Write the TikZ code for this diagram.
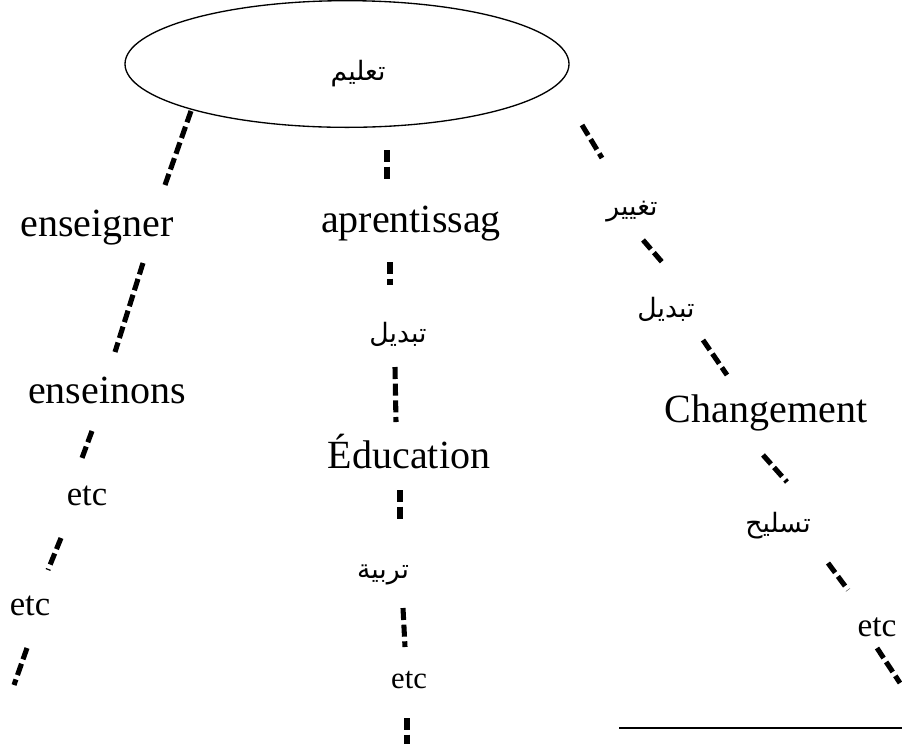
\documentclass[tikz,border=0pt]{standalone}
\usepackage{fontspec}
\setmainfont{Liberation Serif}
\newfontfamily\arabicfont[Script=Arabic]{DejaVu Sans}
\TeXXeTstate=1
\usetikzlibrary{shapes.geometric}
\begin{document}
\begin{tikzpicture}[x=0.75pt,y=-0.75pt,
  seg/.style={line width=3.8pt,dash pattern=on 9pt off 3.5pt},
  fr/.style={font=\fontsize{30}{36}\selectfont,anchor=base,inner sep=0pt},
  et/.style={font=\fontsize{26}{30}\selectfont,anchor=base,inner sep=0pt},
  ar/.style={font=\arabicfont\fontsize{20}{24}\selectfont,anchor=base,inner sep=0pt}]
\useasboundingbox (0,0) rectangle (902,744);
\node[ellipse,draw,line width=1pt,minimum width=333pt,minimum height=95pt,inner sep=0pt] (root) at (347,64) {};
\node[ar] (taalim) at (358,80) {\beginR تعليم\endR};
% left branch
\node[fr] (enseigner) at (97,236) {enseigner};
\node[fr] (enseinons) at (107,403) {enseinons};
\node[et] (etcA) at (87,505) {etc};
\node[et] (etcB) at (30,615) {etc};
% middle branch
\node[fr] (aprent) at (411,232) {aprentissag};
\node[ar] (tabdilM) at (398,342) {\beginR تبديل\endR};
\node[fr] (educ) at (409,468) {Éducation};
\node[ar] (tarbiya) at (383,578) {\beginR تربية\endR};
\node[et,font=\fontsize{23}{27}\selectfont] (etcC) at (409,688) {etc};
% right branch
\node[ar] (taghyir) at (632,215) {\beginR تغيير\endR};
\node[ar] (tabdilR) at (666,317) {\beginR تبديل\endR};
\node[fr] (change) at (766,422) {Changement};
\node[ar] (taslih) at (778,532) {\beginR تسليح\endR};
\node[et,font=\fontsize{25}{29}\selectfont] (etcD) at (877,636) {etc};
% segment ends
\coordinate (l1s) at (191,111); \coordinate (l1e) at (165,185);
\coordinate (l2s) at (143,263); \coordinate (l2e) at (115,352);
\coordinate (l3s) at (92,431);  \coordinate (l3e) at (82,458);
\coordinate (l4s) at (61,538);  \coordinate (l4e) at (48,570);
\coordinate (l5s) at (27,648);  \coordinate (l5e) at (14,685);
\coordinate (m1s) at (387,150); \coordinate (m1e) at (387,182);
\coordinate (m2s) at (390,262); \coordinate (m2e) at (390,285);
\coordinate (m3s) at (395,367); \coordinate (m3e) at (396,422);
\coordinate (m4s) at (400,490); \coordinate (m4e) at (400,522);
\coordinate (m5s) at (403,608); \coordinate (m5e) at (405,647);
\coordinate (m6s) at (407,718); \coordinate (m6e) at (407,744);
\coordinate (r1s) at (582,125); \coordinate (r1e) at (602,158);
\coordinate (r2s) at (643,240); \coordinate (r2e) at (662,262);
\coordinate (r3s) at (703,340); \coordinate (r3e) at (727,375);
\coordinate (r4s) at (763,455); \coordinate (r4e) at (787,482);
\coordinate (r5s) at (828,563); \coordinate (r5e) at (848,590);
\coordinate (r6s) at (877,648); \coordinate (r6e) at (900,683);
\coordinate (hs) at (619,728);  \coordinate (he) at (902,728);
\draw[seg] (l1s) -- (l1e);
\draw[seg] (l2s) -- (l2e);
\draw[seg] (l3s) -- (l3e);
\draw[seg] (l4s) -- (l4e);
\draw[seg] (l5s) -- (l5e);
\draw[seg] (m1s) -- (m1e);
\draw[seg] (m2s) -- (m2e);
\draw[seg] (m3s) -- (m3e);
\draw[seg] (m4s) -- (m4e);
\draw[seg] (m5s) -- (m5e);
\draw[seg] (m6s) -- (m6e);
\draw[seg] (r1s) -- (r1e);
\draw[seg] (r2s) -- (r2e);
\draw[seg] (r3s) -- (r3e);
\draw[seg] (r4s) -- (r4e);
\draw[seg] (r5s) -- (r5e);
\draw[seg] (r6s) -- (r6e);
\draw[line width=2pt] (hs) -- (he);
\end{tikzpicture}
\end{document}
